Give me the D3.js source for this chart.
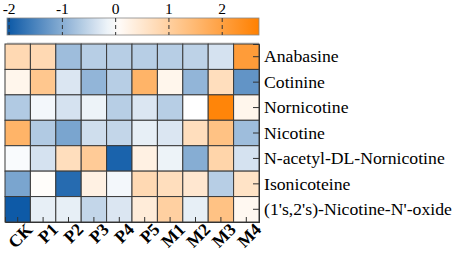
<!DOCTYPE html>
<html>
<head>
<meta charset="utf-8">
<script src="https://cdn.jsdelivr.net/npm/d3@7"></script>
<style>
  body { margin: 0; background: #fff; }
</style>
</head>
<body>
<div id="chart"></div>
<script>
const samples = ['CK', 'P1', 'P2', 'P3', 'P4', 'P5', 'M1', 'M2', 'M3', 'M4'];
const compounds = ['Anabasine', 'Cotinine', 'Nornicotine', 'Nicotine',
    'N-acetyl-DL-Nornicotine', 'Isonicoteine', "(1's,2's)-Nicotine-N'-oxide"];
const legendTicks = [-2, -1, 0, 1, 2];

// z-scores, one array per compound (row), in sample order
const anabasine    = [0.8, 0.8, -0.8, -0.6, -0.6, -0.6, -0.6, -0.55, -0.35, 2.1];
const cotinine     = [0.2, 1.2, -0.3, -0.9, -0.6, 1.6, 0.2, -0.9, 0.7, -1.3];
const nornicotine  = [-0.65, -0.1, -0.35, -0.15, -0.6, -0.3, -0.6, 0.0, 2.6, 0.2];
const nicotine     = [1.6, -0.65, -1.1, -0.4, -0.5, -0.2, -0.3, 0.7, 1.3, -0.8];
const nAcetyl      = [-0.05, -0.35, 0.7, 1.1, -1.9, 0.3, -0.15, -1.0, 0.9, -0.35];
const isonicoteine = [-1.1, 0.05, -1.8, 0.3, -0.1, 0.8, 0.7, 0.5, -0.6, 0.6];
const nOxide       = [-2.0, -0.2, -0.2, -0.5, -0.3, 0.4, 1.0, -0.2, 1.3, 0.15];

const rows = [anabasine, cotinine, nornicotine, nicotine, nAcetyl, isonicoteine, nOxide];

const width = 457, height = 256;
const hm = {left: 5, top: 44, right: 259, bottom: 222};
const serif = 'Times New Roman, Times, Liberation Serif, serif';

const svg = d3.select('#chart').append('svg')
    .attr('width', width)
    .attr('height', height);

const color = d3.scaleLinear()
    .domain([-2.03, 0, 2.7])
    .range(['#0a58a6', '#ffffff', '#ff8000'])
    .interpolate(d3.interpolateRgb);

// color bar
const barX = d3.scaleLinear().domain([-2.03, 2.7]).range([7, 259]);
const defs = svg.append('defs');
const grad = defs.append('linearGradient').attr('id', 'grad');
d3.range(0, 1.0001, 0.05).forEach(t => {
    grad.append('stop')
        .attr('offset', t)
        .attr('stop-color', color(barX.domain()[0] + t * (barX.domain()[1] - barX.domain()[0])));
});
svg.append('rect')
    .attr('x', 7).attr('y', 18)
    .attr('width', 252).attr('height', 17)
    .attr('fill', 'url(#grad)')
    .attr('stroke', '#888').attr('stroke-width', 0.8);

const legendAxis = svg.append('g')
    .attr('transform', 'translate(0,18)')
    .call(d3.axisTop(barX).tickValues(legendTicks).tickFormat(d => d < 0 ? '-' + Math.abs(d) : d).tickSize(0).tickPadding(4));
legendAxis.attr('font-family', serif);
legendAxis.select('.domain').remove();
legendAxis.selectAll('text')
    .attr('font-size', 15.5)
    .attr('fill', '#000');
legendAxis.selectAll('.tick')
    .append('line')
    .attr('y1', 0).attr('y2', 17)
    .attr('stroke', '#333')
    .attr('stroke-dasharray', '4,3');

svg.append('line')
    .attr('x1', 7).attr('x2', 259)
    .attr('y1', 43).attr('y2', 43)
    .attr('stroke', '#ccc').attr('stroke-width', 1);

// heatmap
const x = d3.scaleBand().domain(samples).range([hm.left, hm.right]);
const y = d3.scaleBand().domain(compounds).range([hm.top, hm.bottom]);

const cells = [];
rows.forEach((vals, i) => vals.forEach((v, j) => cells.push({c: compounds[i], s: samples[j], v})));

svg.append('g').selectAll('rect')
    .data(cells)
    .join('rect')
    .attr('x', d => x(d.s))
    .attr('y', d => y(d.c))
    .attr('width', x.bandwidth())
    .attr('height', y.bandwidth())
    .attr('fill', d => color(d.v))
    .attr('stroke', '#3a3a3a')
    .attr('stroke-width', 1);

// bottom axis (ticks inside)
const xAxis = svg.append('g')
    .attr('transform', `translate(0,${hm.bottom})`)
    .call(d3.axisBottom(x).tickSize(-5).tickPadding(6));
xAxis.attr('font-family', serif);
xAxis.select('.domain').attr('stroke', '#333');
xAxis.selectAll('.tick line').attr('stroke', '#333');
xAxis.selectAll('text')
    .attr('font-size', 17.5)
    .attr('font-weight', 'bold')
    .attr('fill', '#000')
    .attr('text-anchor', 'end')
    .attr('dx', '0.3em')
    .attr('dy', '0.65em')
    .attr('transform', 'rotate(-45)');

// right axis (ticks inside)
const yAxis = svg.append('g')
    .attr('transform', `translate(${hm.right},0)`)
    .call(d3.axisRight(y).tickSize(-6).tickPadding(5));
yAxis.attr('font-family', serif);
yAxis.select('.domain').attr('stroke', '#333');
yAxis.selectAll('.tick line').attr('stroke', '#333');
yAxis.selectAll('text')
    .attr('font-size', 17.7)
    .attr('fill', '#000');
</script>
</body>
</html>
